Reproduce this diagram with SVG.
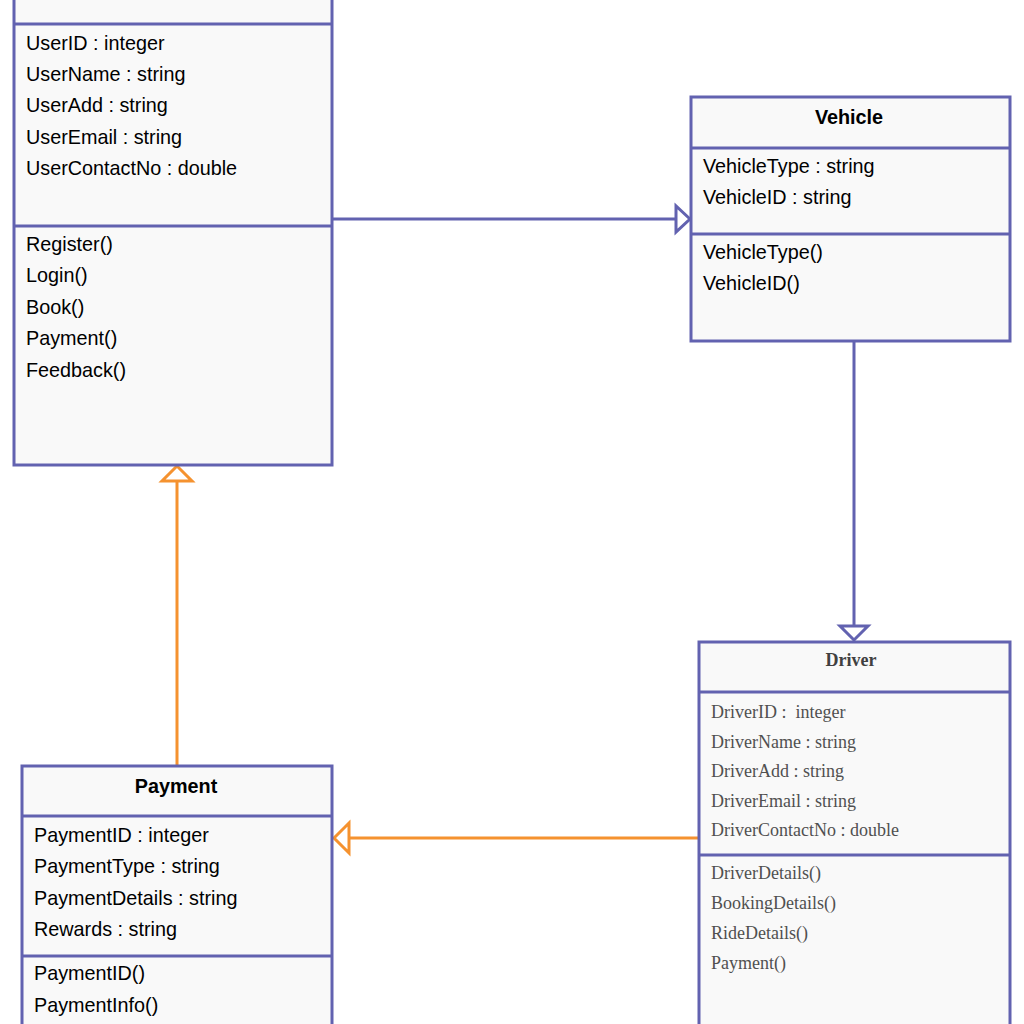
<svg xmlns="http://www.w3.org/2000/svg" width="1024" height="1024" viewBox="0 0 1024 1024">
<defs>
<style>
.box{fill:#f9f9f9;stroke:#6262b0;stroke-width:3}
.sep{stroke:#6262b0;stroke-width:3}
.t{font-family:"Liberation Sans",Arial,sans-serif;font-size:19.8px;fill:#000}
.tb{font-family:"Liberation Sans",Arial,sans-serif;font-size:19.8px;font-weight:bold;fill:#000;text-anchor:middle}
.s{font-family:"Liberation Serif","Times New Roman",serif;font-size:18px;fill:#505050}
.sb{font-family:"Liberation Serif","Times New Roman",serif;font-size:18px;font-weight:bold;fill:#404040;text-anchor:middle}
.cp{fill:none;stroke:#6262b0;stroke-width:3}
.co{fill:none;stroke:#f5922f;stroke-width:3}
.hp{fill:#fff;stroke:#6262b0;stroke-width:3}
.ho{fill:#fff;stroke:#f5922f;stroke-width:3}
</style>
</defs>
<rect width="1024" height="1024" fill="#fff"/>
<g id="connectors">
<line class="cp" x1="332" y1="219" x2="676" y2="219"/>
<polygon class="hp" points="690,219 676,206 676,232"/>
<line class="cp" x1="854" y1="341" x2="854" y2="626"/>
<polygon class="hp" points="854,640 840,626 868,626"/>
<line class="co" x1="177" y1="766" x2="177" y2="481"/>
<polygon class="ho" points="177,466 162,481 192,481"/>
<line class="co" x1="699" y1="838" x2="349" y2="838"/>
<polygon class="ho" points="334,838 349,823 349,853"/>
</g>
<g id="user">
<rect class="box" x="14" y="-40" width="318" height="505"/>
<line class="sep" x1="14" y1="24" x2="332" y2="24"/>
<line class="sep" x1="14" y1="226" x2="332" y2="226"/>
<text class="t" x="26" y="50">UserID : integer</text>
<text class="t" x="26" y="81">UserName : string</text>
<text class="t" x="26" y="112">UserAdd : string</text>
<text class="t" x="26" y="144">UserEmail : string</text>
<text class="t" x="26" y="175">UserContactNo : double</text>
<text class="t" x="26" y="251">Register()</text>
<text class="t" x="26" y="282">Login()</text>
<text class="t" x="26" y="314">Book()</text>
<text class="t" x="26" y="345">Payment()</text>
<text class="t" x="26" y="377">Feedback()</text>
</g>
<g id="vehicle">
<rect class="box" x="691" y="97" width="319" height="244"/>
<line class="sep" x1="691" y1="148" x2="1010" y2="148"/>
<line class="sep" x1="691" y1="234" x2="1010" y2="234"/>
<text class="tb" x="849" y="124">Vehicle</text>
<text class="t" x="703" y="173">VehicleType : string</text>
<text class="t" x="703" y="204">VehicleID : string</text>
<text class="t" x="703" y="259">VehicleType()</text>
<text class="t" x="703" y="290">VehicleID()</text>
</g>
<g id="driver">
<rect class="box" x="699" y="642" width="311" height="420"/>
<line class="sep" x1="699" y1="692" x2="1010" y2="692"/>
<line class="sep" x1="699" y1="855" x2="1010" y2="855"/>
<text class="sb" x="851" y="666">Driver</text>
<text class="s" x="711" y="718" xml:space="preserve">DriverID :  integer</text>
<text class="s" x="711" y="748">DriverName : string</text>
<text class="s" x="711" y="777">DriverAdd : string</text>
<text class="s" x="711" y="807">DriverEmail : string</text>
<text class="s" x="711" y="836">DriverContactNo : double</text>
<text class="s" x="711" y="879">DriverDetails()</text>
<text class="s" x="711" y="909">BookingDetails()</text>
<text class="s" x="711" y="939">RideDetails()</text>
<text class="s" x="711" y="969">Payment()</text>
</g>
<g id="payment">
<rect class="box" x="22" y="766" width="310" height="300"/>
<line class="sep" x1="22" y1="816" x2="332" y2="816"/>
<line class="sep" x1="22" y1="956" x2="332" y2="956"/>
<text class="tb" x="176" y="793">Payment</text>
<text class="t" x="34" y="842">PaymentID : integer</text>
<text class="t" x="34" y="873">PaymentType : string</text>
<text class="t" x="34" y="905">PaymentDetails : string</text>
<text class="t" x="34" y="936">Rewards : string</text>
<text class="t" x="34" y="980">PaymentID()</text>
<text class="t" x="34" y="1012">PaymentInfo()</text>
</g>
</svg>
